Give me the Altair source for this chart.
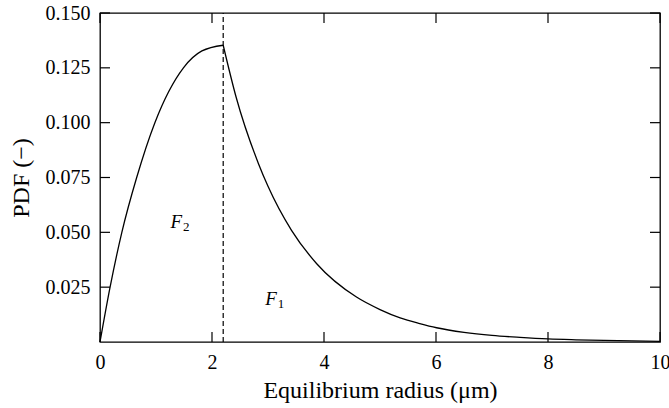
import altair as alt
import pandas as pd

# Rising branch (F2) up to the dashed threshold
x_left = [0.0, 0.18, 0.39, 0.655, 0.98, 1.49, 1.82, 2.2]
y_left = [0.0, 0.025, 0.050, 0.075, 0.100, 0.125, 0.1327, 0.1353]
# Decaying branch (F1)
x_right = [2.2, 2.43, 2.83, 3.0, 3.42, 3.87, 4.58, 5.0, 5.36, 5.71, 6.01,
           6.5, 7.0, 7.5, 8.0, 8.5, 9.0, 9.5, 10.0]
y_right = [0.1353, 0.1117, 0.0813, 0.071, 0.0509, 0.0357, 0.0205, 0.0148, 0.0110,
           0.0084, 0.0065, 0.0044, 0.0030, 0.0021, 0.0014, 0.0010, 0.0007, 0.0005, 0.0003]

threshold_x = [2.2]
x_ticks = [0, 2, 4, 6, 8, 10]
y_ticks = [0.025, 0.050, 0.075, 0.100, 0.125, 0.150]

label_x = [1.26, 2.95]
label_y = [0.052, 0.0167]
label_main = ["F", "F"]
label_sub = ["2", "1"]

FONT = "Liberation Serif"
W, H = 560, 329

curve = pd.DataFrame({
    "x": x_left + x_right,
    "y": y_left + y_right,
    "seg": ["left"] * len(x_left) + ["right"] * len(x_right),
    "i": list(range(len(x_left) + len(x_right))),
})
thr = pd.DataFrame({"x": threshold_x, "y0": [0.0], "y1": [0.150]})
xt = pd.DataFrame({"x": x_ticks})
yt = pd.DataFrame({"y": y_ticks})
labels = pd.DataFrame({"x": label_x, "y": label_y, "m": label_main, "s": label_sub})

xscale = alt.Scale(domain=[0, 10], nice=False, zero=False)
yscale = alt.Scale(domain=[0, 0.15], nice=False)

xaxis = alt.Axis(values=x_ticks, ticks=False, domain=False, grid=False,
                 labelFont=FONT, labelFontSize=20, labelColor="black", labelPadding=10,
                 title="Equilibrium radius (μm)", titleFont=FONT, titleFontSize=24,
                 titleFontWeight="normal", titleColor="black",
                 titleX=W / 2, titleY=55, titleBaseline="alphabetic", titleAlign="center",
                 labelFlush=False)
yaxis = alt.Axis(values=y_ticks, format=".3f", ticks=False, domain=False, grid=False,
                 labelFont=FONT, labelFontSize=20, labelColor="black", labelPadding=10,
                 title="PDF (−)", titleFont=FONT, titleFontSize=24,
                 titleFontWeight="normal", titleColor="black",
                 titleX=-72, titleY=H / 2, titleAngle=270, titleBaseline="alphabetic",
                 titleAlign="center", labelFlush=False)

line = alt.Chart(curve).mark_line(color="black", strokeWidth=1.3, interpolate="monotone").encode(
    x=alt.X("x:Q", scale=xscale, axis=xaxis),
    y=alt.Y("y:Q", scale=yscale, axis=yaxis),
    detail="seg:N",
    order="i:Q",
)

dash = alt.Chart(thr).mark_rule(color="black", strokeWidth=1.2, strokeDash=[5, 3]).encode(
    x=alt.X("x:Q", scale=xscale),
    y=alt.Y("y0:Q", scale=yscale),
    y2="y1:Q",
)

tick_style = dict(color="black", strokeWidth=1.2)
xb = alt.Chart(xt).mark_rule(**tick_style).encode(
    x=alt.X("x:Q", scale=xscale), y=alt.value(H), y2=alt.value(H - 10))
xtop = alt.Chart(xt).mark_rule(**tick_style).encode(
    x=alt.X("x:Q", scale=xscale), y=alt.value(0), y2=alt.value(10))
yl = alt.Chart(yt).mark_rule(**tick_style).encode(
    y=alt.Y("y:Q", scale=yscale), x=alt.value(0), x2=alt.value(10))
yr = alt.Chart(yt).mark_rule(**tick_style).encode(
    y=alt.Y("y:Q", scale=yscale), x=alt.value(W), x2=alt.value(W - 10))

main_txt = alt.Chart(labels).mark_text(font=FONT, fontSize=19, fontStyle="italic",
                                       align="left", baseline="alphabetic", color="black").encode(
    x=alt.X("x:Q", scale=xscale), y=alt.Y("y:Q", scale=yscale), text="m:N")
sub_txt = alt.Chart(labels).mark_text(font=FONT, fontSize=13, align="left",
                                      baseline="alphabetic", dx=12.5, dy=3, color="black").encode(
    x=alt.X("x:Q", scale=xscale), y=alt.Y("y:Q", scale=yscale), text="s:N")

chart = alt.layer(line, dash, xb, xtop, yl, yr, main_txt, sub_txt).properties(
    width=W, height=H,
    autosize=alt.AutoSizeParams(type="none"),
    padding={"left": 100, "top": 13, "right": 9, "bottom": 66},
).configure(
    background="white", font=FONT
).configure_view(stroke="black", strokeWidth=1.3
).configure_axis(labelFont=FONT, titleFont=FONT).configure_text(font=FONT)

chart.save("out.html", embed_options={"renderer": "svg", "actions": False})
